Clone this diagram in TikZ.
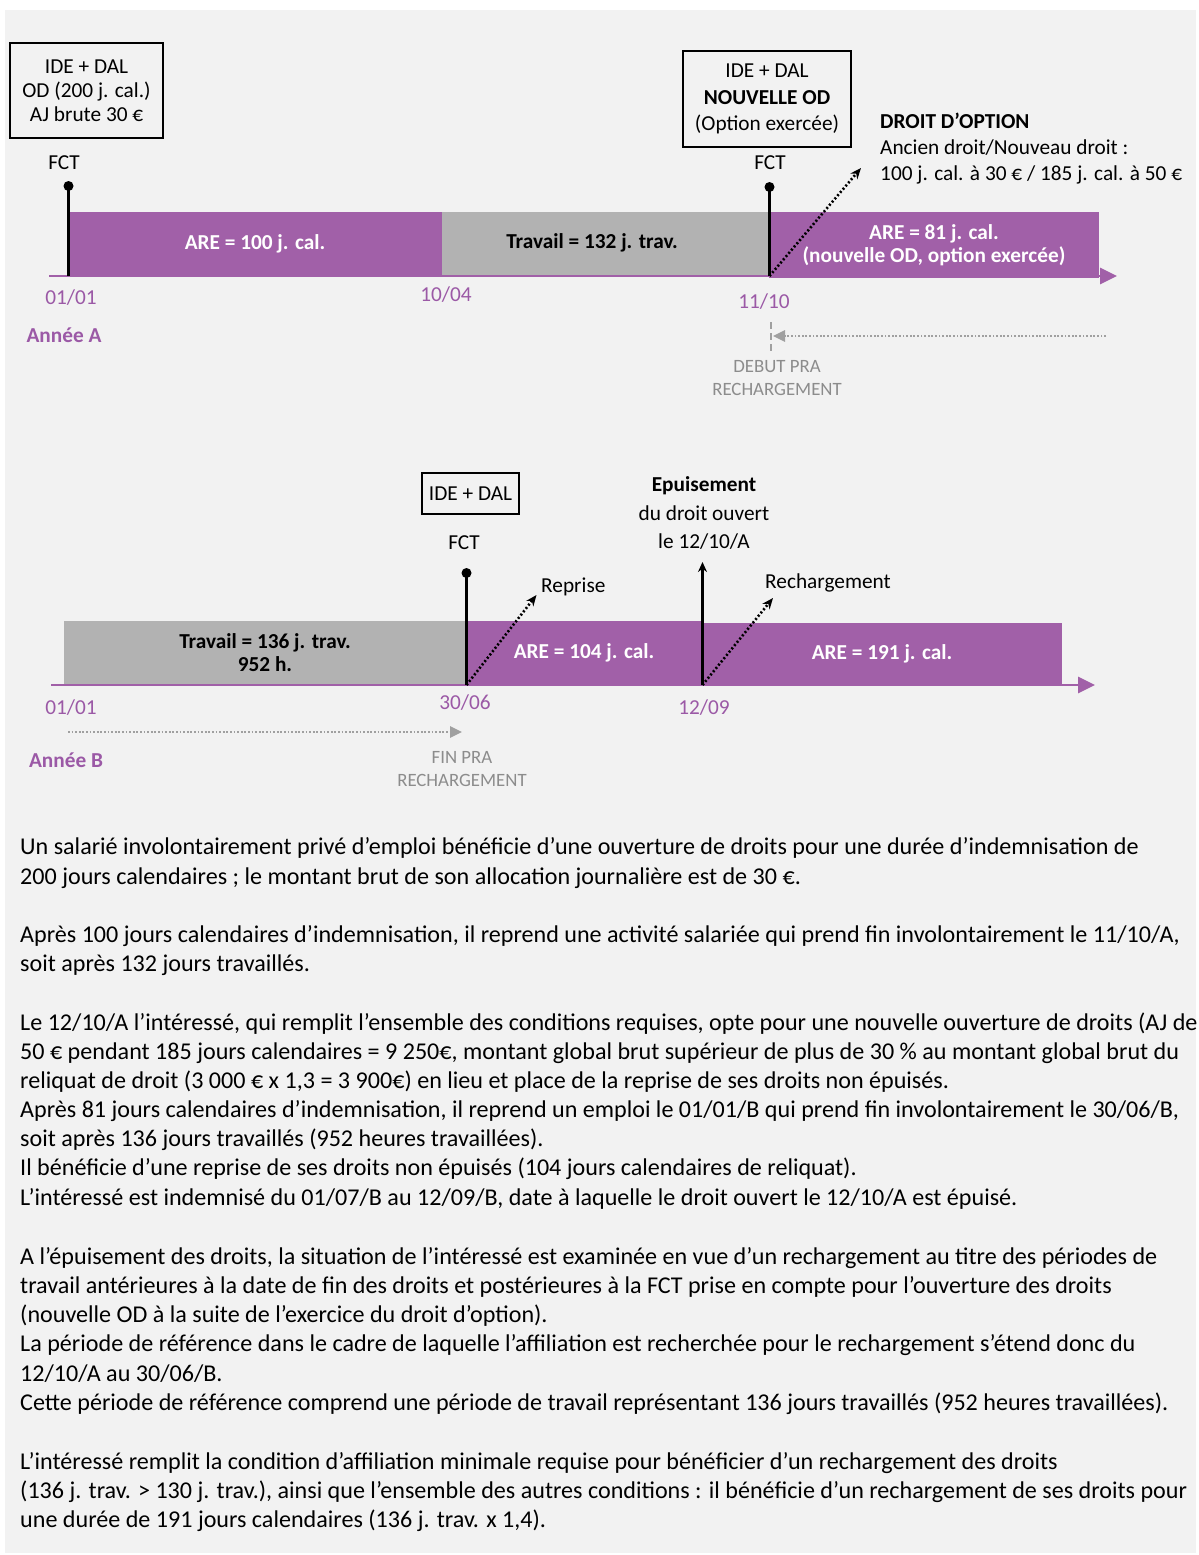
\documentclass[tikz,border=0pt]{standalone}
\usepackage{fontspec}
\setmainfont{Carlito}
\usetikzlibrary{arrows.meta}
\definecolor{bgc}{RGB}{242,242,242}
\definecolor{purp}{RGB}{161,96,168}
\definecolor{datep}{RGB}{155,89,166}
\definecolor{grbar}{RGB}{178,178,178}
\definecolor{gtext}{RGB}{140,140,140}
\definecolor{garrow}{RGB}{160,160,160}
\tikzset{
  lbl/.style={inner sep=0pt, align=center, font=\fontsize{21.3}{24}\selectfont},
  boxnode/.style={draw=black, line width=1.5pt, inner sep=0pt, align=center, font=\fontsize{21.3}{24}\selectfont},
  barp/.style={fill=purp, inner sep=0pt, text=white, align=center, font=\fontsize{21.3}{23}\selectfont\bfseries},
  barg/.style={fill=grbar, inner sep=0pt, text=black, align=center, font=\fontsize{21.3}{23}\selectfont\bfseries},
  datelbl/.style={inner sep=0pt, text=datep, font=\fontsize{21.3}{24}\selectfont},
  yearlbl/.style={inner sep=0pt, text=datep, font=\fontsize{21.3}{24}\selectfont\bfseries},
  gnote/.style={inner sep=0pt, text=gtext, align=center, font=\fontsize{18.8}{23}\selectfont},
  axisline/.style={draw=purp, line width=2.8pt, -{Triangle[length=17pt,width=16pt]}},
  pinline/.style={draw=black, line width=3pt},
  pindot/.style={circle, fill=black, inner sep=0pt, minimum size=10pt},
  dotarrow/.style={draw=black, line width=2.6pt, dash pattern=on 2pt off 2.2pt, -{Stealth[length=11pt,width=9pt]}},
  uparrow/.style={draw=black, line width=2.5pt, -{Stealth[length=10pt,width=9pt]}},
  gdot/.style={draw=garrow, line width=2.6pt, dash pattern=on 1.8pt off 1.8pt, -{Triangle[length=12pt,width=11pt]}},
  gdash/.style={draw=garrow, line width=1.8pt, dash pattern=on 7pt off 4pt},
  body/.style={inner sep=0pt, anchor=base west, font=\fontsize{24.1}{29}\selectfont},
}
\begin{document}
\begin{tikzpicture}[x=1pt,y=-1pt]
\useasboundingbox (0,0) rectangle (1199,1555);
\fill[white] (0,0) rectangle (1199,1555);
\fill[bgc] (5,10) rectangle (1196,1553);

% ===== Timeline A =====
\node[barp, minimum width=374pt, minimum height=64pt] (a1) at (255,244) {ARE = 100 j. cal.};
\node[barg, minimum width=327pt, minimum height=64pt] (a2) at (605.5,244) {};
\node[lbl, font=\fontsize{21.3}{23}\selectfont\bfseries] (a2t) at (592,243) {Travail = 132 j. trav.};
\node[barp, minimum width=330pt, minimum height=66pt] (a3) at (934,245) {ARE = 81 j. cal.\\(nouvelle OD, option exercée)};
\coordinate (axas) at (49,276);
\coordinate (axae) at (1117,276);
\draw[axisline] (axas) -- (axae);

\node[pindot] (pa1) at (68.5,186) {};
\coordinate (pa1b) at (68.5,276);
\draw[pinline] (pa1.center) -- (pa1b);
\node[pindot] (pa2) at (769.5,187) {};
\coordinate (pa2b) at (769.5,276);
\draw[pinline] (pa2.center) -- (pa2b);

\node[boxnode, minimum width=153pt, minimum height=95pt] (boxa1) at (86.5,90.5) {IDE + DAL\\OD (200 j. cal.)\\AJ brute 30 €};
\node[boxnode, minimum width=168pt, minimum height=96pt, font=\fontsize{21.3}{26.5}\selectfont] (boxa2) at (767,99) {IDE + DAL\\\textbf{NOUVELLE OD}\\(Option exercée)};
\node[lbl] (fcta1) at (64,163) {FCT};
\node[lbl] (fcta2) at (770,163) {FCT};

\coordinate (opt) at (861,168);
\draw[dotarrow] (pa2b) -- (opt);
\node[lbl, anchor=west, align=left, font=\fontsize{21.3}{26}\selectfont] (droit) at (880,149) {\textbf{DROIT D’OPTION}\\Ancien droit/Nouveau droit :\\100 j. cal. à 30 € / 185 j. cal. à 50 €};

\node[datelbl] (da1) at (71,298) {01/01};
\node[datelbl] (da2) at (446,295) {10/04};
\node[datelbl] (da3) at (764,302) {11/10};
\node[yearlbl] (yra) at (64,335) {Année A};

\coordinate (dpa1) at (771,322);
\coordinate (dpa2) at (771,351);
\draw[gdash] (dpa1) -- (dpa2);
\coordinate (pras) at (1106,336);
\coordinate (prae) at (773,336);
\draw[gdot] (pras) -- (prae);
\node[gnote] (debut) at (777,378.5) {DEBUT PRA\\RECHARGEMENT};

% ===== Timeline B =====
\node[barg, minimum width=402pt, minimum height=64pt] (b1) at (265,653) {Travail = 136 j. trav.\\952 h.};
\node[barp, minimum width=236pt, minimum height=64pt] (b2) at (584,653) {ARE = 104 j. cal.};
\node[barp, minimum width=360pt, minimum height=62pt] (b3) at (882,654) {ARE = 191 j. cal.};
\coordinate (axbs) at (51,685);
\coordinate (axbe) at (1095,685);
\draw[axisline] (axbs) -- (axbe);

\node[pindot] (pb1) at (466.5,573) {};
\coordinate (pb1b) at (466.5,685);
\draw[pinline] (pb1.center) -- (pb1b);

\node[boxnode, minimum width=97pt, minimum height=41pt] (boxb1) at (470.5,493.5) {IDE + DAL};
\node[lbl] (fctb1) at (464,543) {FCT};

\coordinate (rep) at (536.5,595);
\draw[dotarrow] (pb1b) -- (rep);
\node[lbl, anchor=west] (reptxt) at (541,587) {Reprise};

\coordinate (epb) at (702.5,685);
\coordinate (ept) at (702.5,562);
\draw[uparrow] (epb) -- (ept);
\node[lbl, font=\fontsize{21.3}{28.5}\selectfont] (epuis) at (704,513) {\textbf{Epuisement}\\du droit ouvert\\le 12/10/A};

\coordinate (rech) at (773,598);
\draw[dotarrow] (epb) -- (rech);
\node[lbl, anchor=west] (rechtxt) at (765,583) {Rechargement};

\node[datelbl] (db1) at (71,708) {01/01};
\node[datelbl] (db2) at (465,703) {30/06};
\node[datelbl] (db3) at (704,708) {12/09};
\node[yearlbl] (yrb) at (66,760) {Année B};

\coordinate (prbs) at (68,732);
\coordinate (prbe) at (462,732);
\draw[gdot] (prbs) -- (prbe);
\node[gnote] (fin) at (462,769.5) {FIN PRA\\RECHARGEMENT};

% ===== Body text =====
\node[body] (t1) at (20,854) {Un salarié involontairement privé d’emploi bénéficie d’une ouverture de droits pour une durée d’indemnisation de};
\node[body] (t2) at (20,884) {200 jours calendaires ; le montant brut de son allocation journalière est de 30 €.};
\node[body] (t3) at (20,942) {Après 100 jours calendaires d’indemnisation, il reprend une activité salariée qui prend fin involontairement le 11/10/A,};
\node[body] (t4) at (20,971) {soit après 132 jours travaillés.};
\node[body] (t5) at (20,1030) {Le 12/10/A l’intéressé, qui remplit l’ensemble des conditions requises, opte pour une nouvelle ouverture de droits (AJ de};
\node[body] (t6) at (20,1059) {50 € pendant 185 jours calendaires = 9 250€, montant global brut supérieur de plus de 30 \% au montant global brut du};
\node[body] (t7) at (20,1088) {reliquat de droit (3 000 € x 1,3 = 3 900€) en lieu et place de la reprise de ses droits non épuisés.};
\node[body] (t8) at (20,1117) {Après 81 jours calendaires d’indemnisation, il reprend un emploi le 01/01/B qui prend fin involontairement le 30/06/B,};
\node[body] (t9) at (20,1146) {soit après 136 jours travaillés (952 heures travaillées).};
\node[body] (t10) at (20,1175) {Il bénéficie d’une reprise de ses droits non épuisés (104 jours calendaires de reliquat).};
\node[body] (t11) at (20,1205) {L’intéressé est indemnisé du 01/07/B au 12/09/B, date à laquelle le droit ouvert le 12/10/A est épuisé.};
\node[body] (t12) at (20,1264) {A l’épuisement des droits, la situation de l’intéressé est examinée en vue d’un rechargement au titre des périodes de};
\node[body] (t13) at (20,1293) {travail antérieures à la date de fin des droits et postérieures à la FCT prise en compte pour l’ouverture des droits};
\node[body] (t14) at (20,1322) {(nouvelle OD à la suite de l’exercice du droit d’option).};
\node[body] (t15) at (20,1351) {La période de référence dans le cadre de laquelle l’affiliation est recherchée pour le rechargement s’étend donc du};
\node[body] (t16) at (20,1381) {12/10/A au 30/06/B.};
\node[body] (t17) at (20,1410) {Cette période de référence comprend une période de travail représentant 136 jours travaillés (952 heures travaillées).};
\node[body] (t18) at (20,1469) {L’intéressé remplit la condition d’affiliation minimale requise pour bénéficier d’un rechargement des droits};
\node[body] (t19) at (20,1498) {(136 j. trav. > 130 j. trav.), ainsi que l’ensemble des autres conditions : il bénéficie d’un rechargement de ses droits pour};
\node[body] (t20) at (20,1527) {une durée de 191 jours calendaires (136 j. trav. x 1,4).};
\end{tikzpicture}
\end{document}
